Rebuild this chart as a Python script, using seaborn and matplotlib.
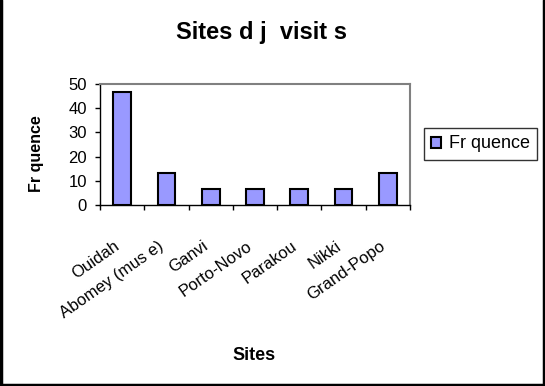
import matplotlib
matplotlib.use("Agg")
import matplotlib.pyplot as plt
import seaborn as sns
from matplotlib.lines import Line2D

sites = ["Ouidah", "Abomey (mus e)", "Ganvi", "Porto-Novo", "Parakou", "Nikki", "Grand-Popo"]
frequence = [46.7, 13.3, 6.7, 6.7, 6.7, 6.7, 13.3]
yticks = [0, 10, 20, 30, 40, 50]
title = "Sites d j  visit s"
ylabel = "Fr quence"
xlabel = "Sites"
legend_label = "Fr quence"

sns.set_style("white")
plt.rcParams["font.family"] = ["Liberation Sans", "DejaVu Sans"]
plt.rcParams["text.color"] = "black"
plt.rcParams["axes.labelcolor"] = "black"
plt.rcParams["xtick.color"] = "black"
plt.rcParams["ytick.color"] = "black"

W, H = 545, 386
fig = plt.figure(figsize=(W / 100, H / 100), dpi=100)
ax = fig.add_axes([100 / W, 1 - 205 / H, 310 / W, 121 / H])

sns.barplot(x=sites, y=frequence, color="#9999FF", saturation=1, width=0.4,
            edgecolor="black", linewidth=1.5, ax=ax)

ax.set_ylim(0, 50)
ax.set_xlim(-0.5, len(sites) - 0.5)
ax.set_yticks(yticks)
ax.tick_params(axis="y", direction="out", length=3.5, width=1, color="black",
               labelsize=12, pad=6, left=True, labelcolor="black")
ax.set_xticks(range(len(sites)))
ax.set_xticklabels(sites, rotation=35, ha="right", va="top", fontsize=12, color="black")
ax.tick_params(axis="x", which="major", length=0, pad=24)
ax.set_xticks([i - 0.5 for i in range(len(sites) + 1)], minor=True)
ax.tick_params(axis="x", which="minor", direction="out", length=3.8, width=1,
               color="black", bottom=True)
ax.set_xlabel("")
ax.set_ylabel("")

for s in ["top", "right"]:
    ax.spines[s].set_color("#808080")
    ax.spines[s].set_linewidth(1.5)
for s in ["left", "bottom"]:
    ax.spines[s].set_color("black")
    ax.spines[s].set_linewidth(1)
ax.set_facecolor("white")

fig.text(261 / W, 1 - 32 / H, title, ha="center", va="center",
         fontsize=17, fontweight="bold", color="black")
fig.text(37 / W, 1 - 154 / H, ylabel, ha="center", va="center", rotation=90,
         fontsize=11.5, fontweight="bold", color="black")
fig.text(254 / W, 1 - 355 / H, xlabel, ha="center", va="center",
         fontsize=13, fontweight="bold", color="black")

leg = fig.legend(handles=[ax.patches[0]], labels=[legend_label],
                 loc="center", bbox_to_anchor=(480.5 / W, 1 - 144 / H),
                 fontsize=13, frameon=True, fancybox=False, shadow=False,
                 handlelength=0.55, handleheight=0.55, handletextpad=0.45,
                 borderpad=0.4, borderaxespad=0)
leg.get_frame().set_edgecolor("black")
leg.get_frame().set_linewidth(1)
for t in leg.get_texts():
    t.set_color("black")

# chart-area border (left, bottom, right)
for (x0, y0, x1, y1) in [(1.2, 0, 1.2, 384.5), (0, 384.5, W, 384.5), (543.5, 0, 543.5, 384.5)]:
    fig.add_artist(Line2D([x0 / W, x1 / W], [1 - y0 / H, 1 - y1 / H],
                          transform=fig.transFigure, color="black", linewidth=2.5))

fig.savefig("out.png", dpi=100)
